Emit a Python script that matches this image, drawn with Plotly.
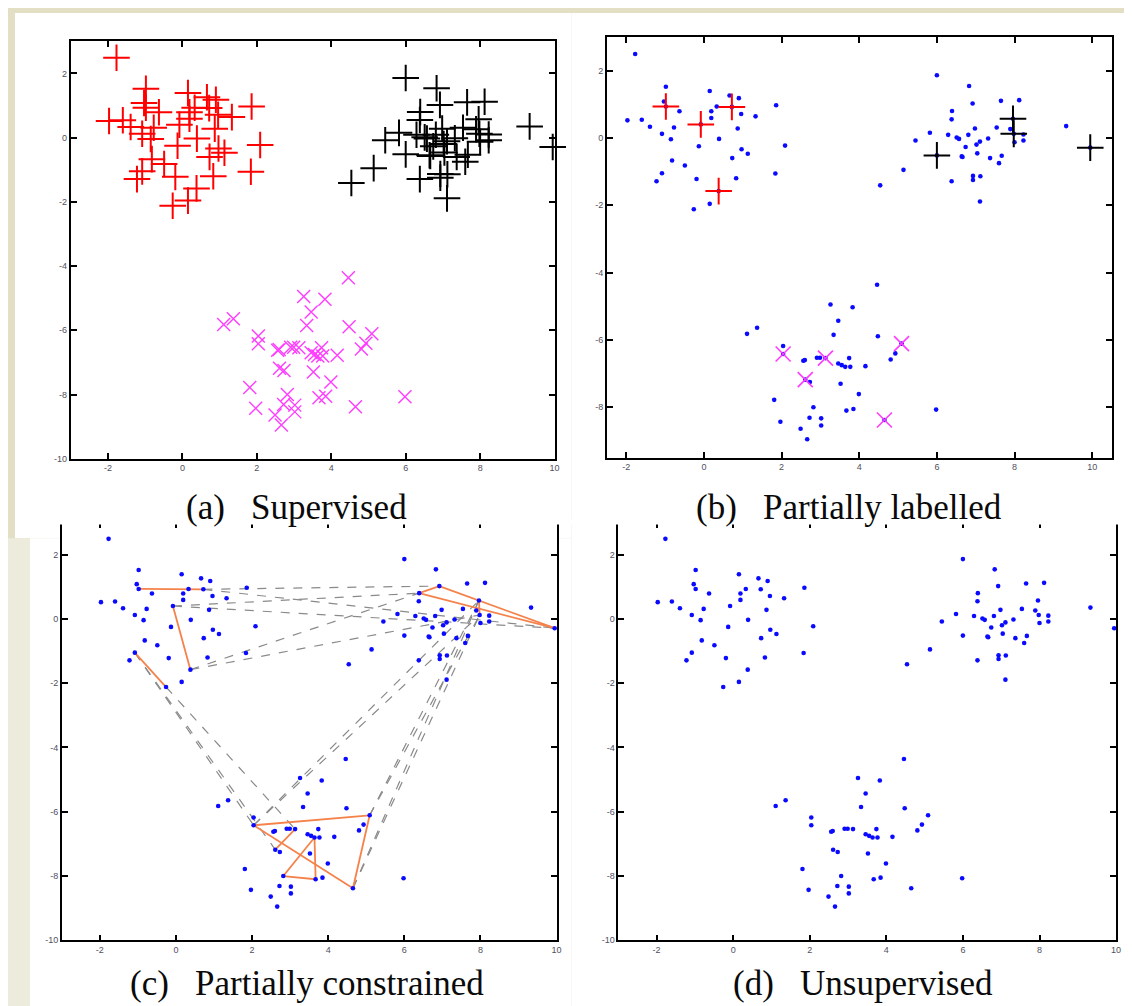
import plotly.graph_objects as go

# ---------------- data ----------------
RED_X = [-1.77, -1.97, -1.60, -1.39, -0.98, -1.03, -0.98, -0.63, -0.77, -1.08, -0.85, -1.22, -1.08,
         -0.82, -0.49, -0.19, -0.26, 0.15, 0.38, -0.13, -0.08, 0.15, 0.19, 0.19, 0.33, 0.39, 0.66,
         0.72, 0.90, 0.96, 0.87, 0.73, 0.97, 1.13, 0.83, 1.33, 1.86, 2.09, 1.84]
RED_Y = [2.49, 0.52, 0.54, 0.33, 1.52, 1.08, 0.93, 0.79, 0.31, 0.12, -0.04, -1.29, -1.05,
         -0.67, -0.82, -1.22, -2.12, -1.96, -1.58, -0.25, 0.40, 1.39, 0.79, 0.59, 0.93, -0.03, 1.26,
         0.92, 1.18, 0.71, 0.28, -0.60, -0.34, -0.47, -1.20, 0.64, 0.97, -0.23, -1.06]

BLK_X = [6.00, 6.83, 6.92, 6.39, 6.38, 7.65, 8.12, 7.96, 5.82, 5.45, 6.29, 6.51, 6.57, 6.81,
         6.98, 7.32, 7.54, 7.89, 7.98, 8.23, 8.23, 8.00, 6.74, 7.02, 7.11, 7.04, 6.64, 6.66,
         7.37, 7.67, 7.60, 6.93, 6.93, 7.12, 6.38, 7.11, 5.14, 4.54, 9.33, 9.95, 6.00]
BLK_Y = [1.86, 1.54, 1.02, 0.80, 0.55, 1.10, 1.12, 0.57, 0.15, -0.08, 0.09, 0.01, -0.03, 0.09,
         0.28, -0.02, 0.31, 0.26, 0.12, 0.10, -0.08, -0.13, -0.27, -0.20, -0.11, -0.46, -0.55, -0.57,
         -0.60, -0.53, -0.75, -1.13, -1.25, -1.14, -1.29, -1.89, -0.95, -1.41, 0.35, -0.29, -0.52]

MAG_X = [4.46, 3.26, 3.83, 3.46, 3.34, 4.48, 1.11, 1.37, 2.04, 2.04, 5.09, 4.93, 4.81, 2.56,
         2.60, 2.91, 2.99, 3.13, 3.46, 3.55, 3.64, 3.74, 3.77, 4.16, 2.61, 2.73, 3.52, 3.99,
         1.81, 2.82, 3.85, 3.67, 5.98, 1.97, 2.72, 3.02, 3.02, 4.65, 2.49, 2.66]
MAG_Y = [-4.36, -4.95, -5.03, -5.43, -5.85, -5.89, -5.82, -5.64, -6.18, -6.42, -6.11, -6.40, -6.58, -6.62,
         -6.60, -6.53, -6.53, -6.54, -6.70, -6.75, -6.80, -6.54, -6.80, -6.78, -7.18, -7.25, -7.30, -7.61,
         -7.78, -8.00, -8.05, -8.10, -8.07, -8.43, -8.31, -8.33, -8.54, -8.38, -8.64, -8.95]

# indices of the points that carry a label in panel (b)
LAB_RED = [6, 20, 27, 18]
LAB_BLK = [40, 7, 18, 39]
LAB_MAG = [9, 17, 24, 10, 37]

# panel (c) constraints: pairs of (cluster, index)
MUST_LINK = [(("r", 6), ("r", 27)), (("r", 20), ("r", 18)), (("r", 12), ("r", 16)),
             (("b", 3), ("b", 2)), (("b", 2), ("b", 39)), (("b", 3), ("b", 39)), (("b", 7), ("b", 18)),
             (("m", 9), ("m", 10)), (("m", 10), ("m", 37)), (("m", 9), ("m", 37)), (("m", 24), ("m", 17)),
             (("m", 29), ("m", 20)), (("m", 20), ("m", 31)), (("m", 31), ("m", 29))]
CANNOT_LINK = [(("r", 20), ("b", 3)), (("r", 27), ("b", 2)), (("r", 20), ("b", 39)), (("r", 27), ("b", 39)),
               (("r", 18), ("b", 3)), (("r", 18), ("b", 18)), (("r", 12), ("m", 9)), (("r", 12), ("m", 24)),
               (("r", 16), ("m", 17)), (("m", 9), ("b", 7)), (("m", 9), ("b", 18)), (("m", 37), ("b", 7)),
               (("m", 37), ("b", 18)), (("m", 10), ("b", 7)), (("m", 10), ("b", 18))]

X_TICKS = [-2, 0, 2, 4, 6, 8, 10]
Y_TICKS_FULL = [2, 0, -2, -4, -6, -8, -10]
Y_TICKS_B = [2, 0, -2, -4, -6, -8]
SP = "\u00a0\u00a0\u00a0"
CAPTIONS = ["(a)" + SP + "Supervised", "(b)" + SP + "Partially labelled",
            "(c)" + SP + "Partially constrained", "(d)" + SP + "Unsupervised"]

# ---------------- layout geometry ----------------
W, H = 1132, 1006
CL = {"r": (RED_X, RED_Y), "b": (BLK_X, BLK_Y), "m": (MAG_X, MAG_Y)}


def xd(a, b):
    return [a / W, b / W]


def yd(top, bottom):
    return [1 - bottom / H, 1 - top / H]


PANELS = [
    dict(x=(63, 549), y=(33.5, 453), xr=[-3, 10], yr=[-10, 3], yt=Y_TICKS_FULL),
    dict(x=(601.5, 1108.5), y=(29, 452), xr=[-2.5, 10.5], yr=[-9.5, 3], yt=Y_TICKS_B),
    dict(x=(54, 551), y=(517, 937), xr=[-3, 10], yr=[-10, 3], yt=Y_TICKS_FULL),
    dict(x=(613, 1113), y=(517, 937), xr=[-3, 10], yr=[-10, 3], yt=Y_TICKS_FULL),
]

fig = go.Figure()


def ref(i):
    s = "" if i == 0 else str(i + 1)
    return "x" + s, "y" + s


BLUE = "#0a0aff"
RED = "#ff0000"
MAG = "#ff3cff"


def dots(i):
    xa, ya = ref(i)
    fig.add_trace(go.Scatter(x=RED_X + BLK_X + MAG_X, y=RED_Y + BLK_Y + MAG_Y, mode="markers",
                             marker=dict(symbol="circle", size=4.6, color=BLUE), cliponaxis=False,
                             xaxis=xa, yaxis=ya, showlegend=False, hoverinfo="skip"))


# (a) supervised
xa, ya = ref(0)
fig.add_trace(go.Scatter(x=MAG_X, y=MAG_Y, mode="markers", xaxis=xa, yaxis=ya, showlegend=False,
                         cliponaxis=False,
                         marker=dict(symbol="x-thin", size=13, line=dict(color=MAG, width=1.4))))
fig.add_trace(go.Scatter(x=RED_X, y=RED_Y, mode="markers", xaxis=xa, yaxis=ya, showlegend=False,
                         cliponaxis=False,
                         marker=dict(symbol="cross-thin", size=19, line=dict(color=RED, width=2))))
fig.add_trace(go.Scatter(x=BLK_X, y=BLK_Y, mode="markers", xaxis=xa, yaxis=ya, showlegend=False,
                         cliponaxis=False,
                         marker=dict(symbol="cross-thin", size=19, line=dict(color="black", width=2))))

# (b) partially labelled
dots(1)
xa, ya = ref(1)
fig.add_trace(go.Scatter(x=[RED_X[i] for i in LAB_RED], y=[RED_Y[i] for i in LAB_RED], mode="markers",
                         xaxis=xa, yaxis=ya, showlegend=False, cliponaxis=False,
                         marker=dict(symbol="cross-thin", size=19, line=dict(color=RED, width=2))))
fig.add_trace(go.Scatter(x=[BLK_X[i] for i in LAB_BLK], y=[BLK_Y[i] for i in LAB_BLK], mode="markers",
                         xaxis=xa, yaxis=ya, showlegend=False, cliponaxis=False,
                         marker=dict(symbol="cross-thin", size=19, line=dict(color="black", width=2))))
fig.add_trace(go.Scatter(x=[MAG_X[i] for i in LAB_MAG], y=[MAG_Y[i] for i in LAB_MAG], mode="markers",
                         xaxis=xa, yaxis=ya, showlegend=False, cliponaxis=False,
                         marker=dict(symbol="x-thin", size=15, line=dict(color=MAG, width=1.6))))

# (c) partially constrained
xa, ya = ref(2)


def seg(pairs):
    xs, ys = [], []
    for (c1, i1), (c2, i2) in pairs:
        xs += [CL[c1][0][i1], CL[c2][0][i2], None]
        ys += [CL[c1][1][i1], CL[c2][1][i2], None]
    return xs, ys


cx, cy = seg(CANNOT_LINK)
fig.add_trace(go.Scatter(x=cx, y=cy, mode="lines", xaxis=xa, yaxis=ya, showlegend=False,
                         line=dict(color="#8a8a8a", width=1.2, dash="dash"), hoverinfo="skip"))
mx, my = seg(MUST_LINK)
fig.add_trace(go.Scatter(x=mx, y=my, mode="lines", xaxis=xa, yaxis=ya, showlegend=False,
                         line=dict(color="#f5824a", width=1.8), hoverinfo="skip"))
dots(2)

# (d) unsupervised
dots(3)

# axes
layout_axes = {}
for i, p in enumerate(PANELS):
    s = "" if i == 0 else str(i + 1)
    common = dict(showgrid=False, zeroline=False, showline=True, linecolor="black", linewidth=1.6,
                  mirror="ticks", ticks="inside", ticklen=6, tickwidth=1.5, tickcolor="black",
                  tickfont=dict(family="Liberation Sans", size=9, color="#50505e"), fixedrange=True)
    layout_axes["xaxis" + s] = dict(common, range=p["xr"], domain=xd(*p["x"]), anchor="y" + s,
                                    tickvals=X_TICKS, ticktext=[str(v) for v in X_TICKS])
    layout_axes["yaxis" + s] = dict(common, range=p["yr"], domain=yd(*p["y"]), anchor="x" + s,
                                    tickvals=p["yt"], ticktext=[str(v) for v in p["yt"]])

shapes = [
    dict(type="rect", xref="paper", yref="paper", x0=7 / W, x1=566 / W, y0=1 - 533 / H, y1=1 - 5 / H,
         fillcolor="white", line=dict(width=0), layer="below"),
    dict(type="rect", xref="paper", yref="paper", x0=0, x1=22 / W, y0=0, y1=1 - 533 / H,
         fillcolor="#ecebdc", line=dict(width=0), layer="below"),
    dict(type="rect", xref="paper", yref="paper", x0=22 / W, x1=566 / W, y0=0, y1=1 - 533 / H,
         fillcolor="white", line=dict(width=0), layer="below"),
    dict(type="rect", xref="paper", yref="paper", x0=566 / W, x1=1121 / W, y0=0, y1=1 - 5 / H,
         fillcolor="white", line=dict(width=0), layer="below"),
    dict(type="rect", xref="paper", yref="paper", x0=1121 / W, x1=1, y0=0, y1=1 - 528 / H,
         fillcolor="#f2f1ea", line=dict(width=0), layer="below"),
    # caption strips of (a)/(b) hide the top frame of (c)/(d)
    dict(type="rect", xref="paper", yref="paper", x0=40 / W, x1=1118 / W, y0=1 - 519 / H, y1=1 - 514 / H,
         fillcolor="white", line=dict(width=0), layer="above"),
]

CAP_POS = [(290, 502), (845, 502), (300, 980), (859, 980)]
annotations = [dict(text=t, x=cx_ / W, y=1 - cy_ / H, xref="paper", yref="paper", showarrow=False,
                    xanchor="center", yanchor="middle",
                    font=dict(family="Liberation Serif", size=35, color="#0a0a0a"))
               for t, (cx_, cy_) in zip(CAPTIONS, CAP_POS)]

fig.update_layout(width=W, height=H, margin=dict(l=0, r=0, t=0, b=0), autosize=False,
                  paper_bgcolor="#e2dfc4", plot_bgcolor="white", shapes=shapes,
                  annotations=annotations, **layout_axes)

fig.write_html("out.html", config={"displayModeBar": False})
